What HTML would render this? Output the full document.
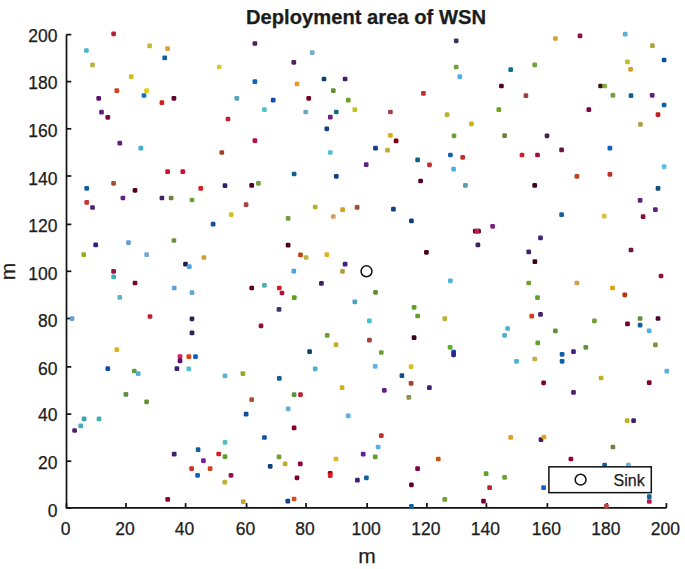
<!DOCTYPE html>
<html><head><meta charset="utf-8"><title>Deployment area of WSN</title>
<style>
html,body{margin:0;padding:0;background:#fff;}
body{width:685px;height:569px;overflow:hidden;}
svg{display:block;}
text{font-family:"Liberation Sans",sans-serif;fill:#1c1c1c;stroke:#1c1c1c;stroke-width:0.25px;}
</style></head><body>
<svg width="685" height="569" viewBox="0 0 685 569">
<rect x="0" y="0" width="685" height="569" fill="#fff"/>
<g stroke="#111" stroke-width="1.7" fill="none">
<path d="M66.5,34.6 V507.9 H666.4"/>
<path d="M66.5,507.9 v-4.8"/>
<path d="M66.5,507.9 h4.8"/>
<path d="M126.0,507.9 v-4.8"/>
<path d="M66.5,461.2 h4.8"/>
<path d="M185.6,507.9 v-4.8"/>
<path d="M66.5,414.1 h4.8"/>
<path d="M246.6,507.9 v-4.8"/>
<path d="M66.5,366.9 h4.8"/>
<path d="M306.05,507.9 v-4.8"/>
<path d="M66.5,318.5 h4.8"/>
<path d="M367.15,507.9 v-4.8"/>
<path d="M66.5,271.3 h4.8"/>
<path d="M426.9,507.9 v-4.8"/>
<path d="M66.5,224.4 h4.8"/>
<path d="M486.4,507.9 v-4.8"/>
<path d="M66.5,176.0 h4.8"/>
<path d="M547.4,507.9 v-4.8"/>
<path d="M66.5,128.8 h4.8"/>
<path d="M606.9,507.9 v-4.8"/>
<path d="M66.5,81.6 h4.8"/>
<path d="M666.4,507.9 v-4.8"/>
<path d="M66.5,34.6 h4.8"/>
</g>
<g font-size="17.5">
<text x="65.50" y="535" text-anchor="middle">0</text>
<text x="57.5" y="517.07" text-anchor="end">0</text>
<text x="125.00" y="535" text-anchor="middle">20</text>
<text x="57.5" y="469.26" text-anchor="end">20</text>
<text x="184.60" y="535" text-anchor="middle">40</text>
<text x="57.5" y="421.46" text-anchor="end">40</text>
<text x="245.60" y="535" text-anchor="middle">60</text>
<text x="57.5" y="374.96" text-anchor="end">60</text>
<text x="305.05" y="535" text-anchor="middle">80</text>
<text x="57.5" y="326.56" text-anchor="end">80</text>
<text x="366.15" y="535" text-anchor="middle">100</text>
<text x="57.5" y="279.87" text-anchor="end">100</text>
<text x="425.90" y="535" text-anchor="middle">120</text>
<text x="57.5" y="232.47" text-anchor="end">120</text>
<text x="485.40" y="535" text-anchor="middle">140</text>
<text x="57.5" y="184.66" text-anchor="end">140</text>
<text x="546.40" y="535" text-anchor="middle">160</text>
<text x="57.5" y="136.87" text-anchor="end">160</text>
<text x="605.90" y="535" text-anchor="middle">180</text>
<text x="57.5" y="89.02" text-anchor="end">180</text>
<text x="665.40" y="535" text-anchor="middle">200</text>
<text x="57.5" y="42.02" text-anchor="end">200</text>
</g>
<text x="366" y="24.3" text-anchor="middle" font-size="20.2" font-weight="bold">Deployment area of WSN</text>
<text x="366.9" y="562.5" text-anchor="middle" font-size="21">m</text>
<text transform="translate(15.4,271.4) rotate(-90)" text-anchor="middle" font-size="21">m</text>
<g>
<rect x="111.25" y="31.45" width="4.7" height="4.7" rx="1.3" fill="#b02030"/>
<rect x="84.05" y="48.15" width="4.7" height="4.7" rx="1.3" fill="#40b8d0"/>
<rect x="147.25" y="43.55" width="4.7" height="4.7" rx="1.3" fill="#c8b830"/>
<rect x="165.25" y="46.25" width="4.7" height="4.7" rx="1.3" fill="#d8a040"/>
<rect x="162.35" y="55.55" width="4.7" height="4.7" rx="1.3" fill="#1060a0"/>
<rect x="90.15" y="62.55" width="4.7" height="4.7" rx="1.3" fill="#c0b040"/>
<rect x="128.85" y="74.35" width="4.7" height="4.7" rx="1.3" fill="#d0c020"/>
<rect x="114.45" y="88.35" width="4.7" height="4.7" rx="1.3" fill="#d04020"/>
<rect x="144.25" y="88.25" width="4.7" height="4.7" rx="1.3" fill="#e0d000"/>
<rect x="141.65" y="93.15" width="4.7" height="4.7" rx="1.3" fill="#1070c0"/>
<rect x="96.35" y="95.95" width="4.7" height="4.7" rx="1.3" fill="#601070"/>
<rect x="171.55" y="95.95" width="4.7" height="4.7" rx="1.3" fill="#600030"/>
<rect x="159.55" y="100.35" width="4.7" height="4.7" rx="1.3" fill="#d02020"/>
<rect x="99.15" y="109.85" width="4.7" height="4.7" rx="1.3" fill="#602080"/>
<rect x="105.45" y="114.95" width="4.7" height="4.7" rx="1.3" fill="#701040"/>
<rect x="252.55" y="41.15" width="4.7" height="4.7" rx="1.3" fill="#502060"/>
<rect x="216.85" y="64.65" width="4.7" height="4.7" rx="1.3" fill="#d8c830"/>
<rect x="252.55" y="79.25" width="4.7" height="4.7" rx="1.3" fill="#1060c0"/>
<rect x="234.45" y="95.95" width="4.7" height="4.7" rx="1.3" fill="#50a8c0"/>
<rect x="270.85" y="97.75" width="4.7" height="4.7" rx="1.3" fill="#1050b0"/>
<rect x="262.05" y="107.35" width="4.7" height="4.7" rx="1.3" fill="#50c0c8"/>
<rect x="225.65" y="116.65" width="4.7" height="4.7" rx="1.3" fill="#c02030"/>
<rect x="309.85" y="50.25" width="4.7" height="4.7" rx="1.3" fill="#70b0d0"/>
<rect x="291.45" y="59.95" width="4.7" height="4.7" rx="1.3" fill="#502060"/>
<rect x="321.65" y="76.65" width="4.7" height="4.7" rx="1.3" fill="#104070"/>
<rect x="342.75" y="76.65" width="4.7" height="4.7" rx="1.3" fill="#402060"/>
<rect x="294.65" y="81.55" width="4.7" height="4.7" rx="1.3" fill="#e0a030"/>
<rect x="330.95" y="88.35" width="4.7" height="4.7" rx="1.3" fill="#609030"/>
<rect x="306.35" y="95.95" width="4.7" height="4.7" rx="1.3" fill="#800020"/>
<rect x="345.95" y="97.75" width="4.7" height="4.7" rx="1.3" fill="#70a030"/>
<rect x="352.45" y="107.35" width="4.7" height="4.7" rx="1.3" fill="#c8c020"/>
<rect x="388.05" y="109.65" width="4.7" height="4.7" rx="1.3" fill="#a04040"/>
<rect x="303.35" y="109.65" width="4.7" height="4.7" rx="1.3" fill="#70a8c8"/>
<rect x="333.95" y="109.65" width="4.7" height="4.7" rx="1.3" fill="#107080"/>
<rect x="327.95" y="114.75" width="4.7" height="4.7" rx="1.3" fill="#702080"/>
<rect x="453.85" y="38.45" width="4.7" height="4.7" rx="1.3" fill="#403060"/>
<rect x="453.85" y="64.65" width="4.7" height="4.7" rx="1.3" fill="#70a040"/>
<rect x="457.45" y="74.35" width="4.7" height="4.7" rx="1.3" fill="#50b0e0"/>
<rect x="508.35" y="67.35" width="4.7" height="4.7" rx="1.3" fill="#107090"/>
<rect x="499.05" y="83.65" width="4.7" height="4.7" rx="1.3" fill="#500030"/>
<rect x="421.05" y="91.05" width="4.7" height="4.7" rx="1.3" fill="#c03030"/>
<rect x="496.45" y="107.35" width="4.7" height="4.7" rx="1.3" fill="#70a020"/>
<rect x="444.75" y="112.25" width="4.7" height="4.7" rx="1.3" fill="#c0b030"/>
<rect x="469.15" y="121.45" width="4.7" height="4.7" rx="1.3" fill="#d0b010"/>
<rect x="553.05" y="36.15" width="4.7" height="4.7" rx="1.3" fill="#d0a030"/>
<rect x="577.65" y="33.55" width="4.7" height="4.7" rx="1.3" fill="#901048"/>
<rect x="622.85" y="31.85" width="4.7" height="4.7" rx="1.3" fill="#60b0d0"/>
<rect x="532.35" y="62.55" width="4.7" height="4.7" rx="1.3" fill="#70a040"/>
<rect x="625.15" y="59.55" width="4.7" height="4.7" rx="1.3" fill="#c0c020"/>
<rect x="628.25" y="66.95" width="4.7" height="4.7" rx="1.3" fill="#d0a030"/>
<rect x="598.25" y="83.65" width="4.7" height="4.7" rx="1.3" fill="#401010"/>
<rect x="602.25" y="83.65" width="4.7" height="4.7" rx="1.3" fill="#80b040"/>
<rect x="523.55" y="93.35" width="4.7" height="4.7" rx="1.3" fill="#a04040"/>
<rect x="610.55" y="92.95" width="4.7" height="4.7" rx="1.3" fill="#70a040"/>
<rect x="628.65" y="93.35" width="4.7" height="4.7" rx="1.3" fill="#106090"/>
<rect x="586.45" y="107.35" width="4.7" height="4.7" rx="1.3" fill="#800040"/>
<rect x="650.05" y="43.25" width="4.7" height="4.7" rx="1.3" fill="#b0a040"/>
<rect x="661.75" y="57.65" width="4.7" height="4.7" rx="1.3" fill="#105090"/>
<rect x="649.85" y="92.95" width="4.7" height="4.7" rx="1.3" fill="#602080"/>
<rect x="661.75" y="102.65" width="4.7" height="4.7" rx="1.3" fill="#1060a0"/>
<rect x="655.65" y="112.25" width="4.7" height="4.7" rx="1.3" fill="#c02020"/>
<rect x="638.05" y="121.95" width="4.7" height="4.7" rx="1.3" fill="#b0a040"/>
<rect x="117.45" y="140.85" width="4.7" height="4.7" rx="1.3" fill="#602080"/>
<rect x="138.45" y="145.75" width="4.7" height="4.7" rx="1.3" fill="#40b0d0"/>
<rect x="165.25" y="169.35" width="4.7" height="4.7" rx="1.3" fill="#d01030"/>
<rect x="180.45" y="169.35" width="4.7" height="4.7" rx="1.3" fill="#d01030"/>
<rect x="111.25" y="180.95" width="4.7" height="4.7" rx="1.3" fill="#a05030"/>
<rect x="84.35" y="186.05" width="4.7" height="4.7" rx="1.3" fill="#1060a0"/>
<rect x="132.65" y="187.95" width="4.7" height="4.7" rx="1.3" fill="#500020"/>
<rect x="84.35" y="200.05" width="4.7" height="4.7" rx="1.3" fill="#d03030"/>
<rect x="90.15" y="205.15" width="4.7" height="4.7" rx="1.3" fill="#502070"/>
<rect x="120.55" y="195.65" width="4.7" height="4.7" rx="1.3" fill="#602080"/>
<rect x="159.55" y="195.65" width="4.7" height="4.7" rx="1.3" fill="#402060"/>
<rect x="168.75" y="195.65" width="4.7" height="4.7" rx="1.3" fill="#708040"/>
<rect x="252.55" y="138.25" width="4.7" height="4.7" rx="1.3" fill="#c01040"/>
<rect x="219.45" y="150.15" width="4.7" height="4.7" rx="1.3" fill="#a04020"/>
<rect x="198.45" y="186.05" width="4.7" height="4.7" rx="1.3" fill="#d02020"/>
<rect x="222.65" y="183.35" width="4.7" height="4.7" rx="1.3" fill="#302070"/>
<rect x="249.35" y="183.05" width="4.7" height="4.7" rx="1.3" fill="#500030"/>
<rect x="256.05" y="180.95" width="4.7" height="4.7" rx="1.3" fill="#70a040"/>
<rect x="189.65" y="197.65" width="4.7" height="4.7" rx="1.3" fill="#70a040"/>
<rect x="243.75" y="202.35" width="4.7" height="4.7" rx="1.3" fill="#b04040"/>
<rect x="228.85" y="212.35" width="4.7" height="4.7" rx="1.3" fill="#d0c020"/>
<rect x="285.75" y="216.05" width="4.7" height="4.7" rx="1.3" fill="#70a040"/>
<rect x="324.45" y="126.45" width="4.7" height="4.7" rx="1.3" fill="#104080"/>
<rect x="388.05" y="132.95" width="4.7" height="4.7" rx="1.3" fill="#d0b020"/>
<rect x="393.75" y="138.55" width="4.7" height="4.7" rx="1.3" fill="#800010"/>
<rect x="373.15" y="145.75" width="4.7" height="4.7" rx="1.3" fill="#104080"/>
<rect x="385.15" y="147.85" width="4.7" height="4.7" rx="1.3" fill="#c0b030"/>
<rect x="327.95" y="150.15" width="4.7" height="4.7" rx="1.3" fill="#50c0d0"/>
<rect x="363.85" y="162.35" width="4.7" height="4.7" rx="1.3" fill="#602080"/>
<rect x="291.75" y="171.65" width="4.7" height="4.7" rx="1.3" fill="#106090"/>
<rect x="333.95" y="173.95" width="4.7" height="4.7" rx="1.3" fill="#104080"/>
<rect x="312.85" y="204.65" width="4.7" height="4.7" rx="1.3" fill="#b0b030"/>
<rect x="340.25" y="207.25" width="4.7" height="4.7" rx="1.3" fill="#d0a020"/>
<rect x="354.75" y="205.05" width="4.7" height="4.7" rx="1.3" fill="#a05030"/>
<rect x="391.05" y="206.75" width="4.7" height="4.7" rx="1.3" fill="#104080"/>
<rect x="330.95" y="214.15" width="4.7" height="4.7" rx="1.3" fill="#d0a060"/>
<rect x="451.65" y="133.45" width="4.7" height="4.7" rx="1.3" fill="#70a030"/>
<rect x="502.25" y="133.35" width="4.7" height="4.7" rx="1.3" fill="#708040"/>
<rect x="448.05" y="152.65" width="4.7" height="4.7" rx="1.3" fill="#1060b0"/>
<rect x="460.35" y="154.95" width="4.7" height="4.7" rx="1.3" fill="#c03030"/>
<rect x="415.25" y="157.55" width="4.7" height="4.7" rx="1.3" fill="#106080"/>
<rect x="427.15" y="162.45" width="4.7" height="4.7" rx="1.3" fill="#c03030"/>
<rect x="451.25" y="166.85" width="4.7" height="4.7" rx="1.3" fill="#50b0e0"/>
<rect x="418.25" y="178.65" width="4.7" height="4.7" rx="1.3" fill="#500030"/>
<rect x="463.05" y="183.05" width="4.7" height="4.7" rx="1.3" fill="#50a0b0"/>
<rect x="409.05" y="218.55" width="4.7" height="4.7" rx="1.3" fill="#104080"/>
<rect x="544.65" y="133.45" width="4.7" height="4.7" rx="1.3" fill="#402050"/>
<rect x="559.25" y="147.55" width="4.7" height="4.7" rx="1.3" fill="#701040"/>
<rect x="519.65" y="152.65" width="4.7" height="4.7" rx="1.3" fill="#d02030"/>
<rect x="535.15" y="152.65" width="4.7" height="4.7" rx="1.3" fill="#a01030"/>
<rect x="607.55" y="145.75" width="4.7" height="4.7" rx="1.3" fill="#1060c0"/>
<rect x="574.55" y="173.95" width="4.7" height="4.7" rx="1.3" fill="#c04020"/>
<rect x="607.55" y="171.95" width="4.7" height="4.7" rx="1.3" fill="#c03020"/>
<rect x="532.35" y="183.05" width="4.7" height="4.7" rx="1.3" fill="#400020"/>
<rect x="559.25" y="212.35" width="4.7" height="4.7" rx="1.3" fill="#1060a0"/>
<rect x="601.95" y="213.75" width="4.7" height="4.7" rx="1.3" fill="#e0c040"/>
<rect x="661.75" y="164.25" width="4.7" height="4.7" rx="1.3" fill="#60c0e0"/>
<rect x="655.65" y="186.05" width="4.7" height="4.7" rx="1.3" fill="#105080"/>
<rect x="637.75" y="197.95" width="4.7" height="4.7" rx="1.3" fill="#602080"/>
<rect x="653.05" y="207.25" width="4.7" height="4.7" rx="1.3" fill="#602080"/>
<rect x="640.75" y="214.35" width="4.7" height="4.7" rx="1.3" fill="#801040"/>
<rect x="93.35" y="242.55" width="4.7" height="4.7" rx="1.3" fill="#302080"/>
<rect x="81.35" y="252.25" width="4.7" height="4.7" rx="1.3" fill="#90b020"/>
<rect x="126.15" y="240.25" width="4.7" height="4.7" rx="1.3" fill="#60a0d0"/>
<rect x="144.25" y="252.25" width="4.7" height="4.7" rx="1.3" fill="#70a8d8"/>
<rect x="171.55" y="238.15" width="4.7" height="4.7" rx="1.3" fill="#709040"/>
<rect x="111.25" y="268.95" width="4.7" height="4.7" rx="1.3" fill="#a01040"/>
<rect x="111.25" y="274.55" width="4.7" height="4.7" rx="1.3" fill="#40b0b0"/>
<rect x="132.65" y="280.65" width="4.7" height="4.7" rx="1.3" fill="#800030"/>
<rect x="171.85" y="285.65" width="4.7" height="4.7" rx="1.3" fill="#60a0d0"/>
<rect x="117.45" y="295.05" width="4.7" height="4.7" rx="1.3" fill="#60b0d0"/>
<rect x="210.75" y="221.85" width="4.7" height="4.7" rx="1.3" fill="#1050a0"/>
<rect x="201.55" y="255.15" width="4.7" height="4.7" rx="1.3" fill="#d0a030"/>
<rect x="183.15" y="261.85" width="4.7" height="4.7" rx="1.3" fill="#202050"/>
<rect x="186.95" y="264.35" width="4.7" height="4.7" rx="1.3" fill="#50a0e0"/>
<rect x="285.75" y="242.85" width="4.7" height="4.7" rx="1.3" fill="#500020"/>
<rect x="189.65" y="290.35" width="4.7" height="4.7" rx="1.3" fill="#60a8d0"/>
<rect x="249.35" y="285.65" width="4.7" height="4.7" rx="1.3" fill="#600020"/>
<rect x="262.05" y="282.95" width="4.7" height="4.7" rx="1.3" fill="#50b0b0"/>
<rect x="276.95" y="285.65" width="4.7" height="4.7" rx="1.3" fill="#d02020"/>
<rect x="279.65" y="290.65" width="4.7" height="4.7" rx="1.3" fill="#b01040"/>
<rect x="276.65" y="307.05" width="4.7" height="4.7" rx="1.3" fill="#403070"/>
<rect x="298.15" y="252.55" width="4.7" height="4.7" rx="1.3" fill="#c04010"/>
<rect x="303.75" y="255.15" width="4.7" height="4.7" rx="1.3" fill="#c0b040"/>
<rect x="324.45" y="252.25" width="4.7" height="4.7" rx="1.3" fill="#e0b020"/>
<rect x="342.75" y="261.85" width="4.7" height="4.7" rx="1.3" fill="#402080"/>
<rect x="340.15" y="268.95" width="4.7" height="4.7" rx="1.3" fill="#b0a040"/>
<rect x="291.45" y="268.75" width="4.7" height="4.7" rx="1.3" fill="#50a0e0"/>
<rect x="319.05" y="281.05" width="4.7" height="4.7" rx="1.3" fill="#402060"/>
<rect x="291.95" y="295.25" width="4.7" height="4.7" rx="1.3" fill="#60a020"/>
<rect x="373.15" y="289.95" width="4.7" height="4.7" rx="1.3" fill="#609030"/>
<rect x="352.45" y="299.45" width="4.7" height="4.7" rx="1.3" fill="#50a0c0"/>
<rect x="490.25" y="223.95" width="4.7" height="4.7" rx="1.3" fill="#802080"/>
<rect x="472.95" y="228.85" width="4.7" height="4.7" rx="1.3" fill="#500030"/>
<rect x="476.15" y="228.85" width="4.7" height="4.7" rx="1.3" fill="#500030"/>
<rect x="474.55" y="228.85" width="4.7" height="4.7" rx="1.3" fill="#c02050"/>
<rect x="475.55" y="242.55" width="4.7" height="4.7" rx="1.3" fill="#402060"/>
<rect x="424.05" y="249.95" width="4.7" height="4.7" rx="1.3" fill="#500020"/>
<rect x="448.05" y="278.55" width="4.7" height="4.7" rx="1.3" fill="#50b0e0"/>
<rect x="411.75" y="304.95" width="4.7" height="4.7" rx="1.3" fill="#60a020"/>
<rect x="538.15" y="235.55" width="4.7" height="4.7" rx="1.3" fill="#402080"/>
<rect x="526.35" y="249.55" width="4.7" height="4.7" rx="1.3" fill="#402070"/>
<rect x="532.55" y="259.25" width="4.7" height="4.7" rx="1.3" fill="#400020"/>
<rect x="628.65" y="247.65" width="4.7" height="4.7" rx="1.3" fill="#701040"/>
<rect x="526.35" y="280.65" width="4.7" height="4.7" rx="1.3" fill="#70a030"/>
<rect x="574.55" y="280.65" width="4.7" height="4.7" rx="1.3" fill="#d0a050"/>
<rect x="610.15" y="285.65" width="4.7" height="4.7" rx="1.3" fill="#e0a000"/>
<rect x="622.45" y="292.45" width="4.7" height="4.7" rx="1.3" fill="#c03010"/>
<rect x="535.15" y="295.25" width="4.7" height="4.7" rx="1.3" fill="#60a030"/>
<rect x="658.65" y="273.65" width="4.7" height="4.7" rx="1.3" fill="#901040"/>
<rect x="69.65" y="316.25" width="4.7" height="4.7" rx="1.3" fill="#60a0d0"/>
<rect x="147.65" y="314.15" width="4.7" height="4.7" rx="1.3" fill="#c02030"/>
<rect x="114.45" y="347.25" width="4.7" height="4.7" rx="1.3" fill="#e0b020"/>
<rect x="105.45" y="366.35" width="4.7" height="4.7" rx="1.3" fill="#1050a0"/>
<rect x="131.95" y="368.65" width="4.7" height="4.7" rx="1.3" fill="#60a040"/>
<rect x="135.85" y="371.25" width="4.7" height="4.7" rx="1.3" fill="#50b0d0"/>
<rect x="123.55" y="392.05" width="4.7" height="4.7" rx="1.3" fill="#609040"/>
<rect x="144.25" y="399.45" width="4.7" height="4.7" rx="1.3" fill="#609030"/>
<rect x="174.55" y="366.35" width="4.7" height="4.7" rx="1.3" fill="#402070"/>
<rect x="189.65" y="316.45" width="4.7" height="4.7" rx="1.3" fill="#302050"/>
<rect x="189.65" y="330.55" width="4.7" height="4.7" rx="1.3" fill="#302050"/>
<rect x="258.65" y="323.45" width="4.7" height="4.7" rx="1.3" fill="#901040"/>
<rect x="177.65" y="354.25" width="4.7" height="4.7" rx="1.3" fill="#d02060"/>
<rect x="177.65" y="358.45" width="4.7" height="4.7" rx="1.3" fill="#601060"/>
<rect x="186.45" y="354.25" width="4.7" height="4.7" rx="1.3" fill="#e04010"/>
<rect x="193.15" y="354.25" width="4.7" height="4.7" rx="1.3" fill="#1060c0"/>
<rect x="186.45" y="366.55" width="4.7" height="4.7" rx="1.3" fill="#50c0d0"/>
<rect x="222.65" y="373.55" width="4.7" height="4.7" rx="1.3" fill="#60b0d0"/>
<rect x="240.55" y="371.25" width="4.7" height="4.7" rx="1.3" fill="#90b020"/>
<rect x="276.95" y="376.05" width="4.7" height="4.7" rx="1.3" fill="#106090"/>
<rect x="249.35" y="397.25" width="4.7" height="4.7" rx="1.3" fill="#b05030"/>
<rect x="285.85" y="406.45" width="4.7" height="4.7" rx="1.3" fill="#60b0d0"/>
<rect x="367.05" y="318.55" width="4.7" height="4.7" rx="1.3" fill="#40c0d0"/>
<rect x="324.85" y="332.95" width="4.7" height="4.7" rx="1.3" fill="#70a030"/>
<rect x="333.65" y="342.25" width="4.7" height="4.7" rx="1.3" fill="#c0b030"/>
<rect x="367.05" y="337.85" width="4.7" height="4.7" rx="1.3" fill="#a04040"/>
<rect x="307.25" y="349.35" width="4.7" height="4.7" rx="1.3" fill="#104070"/>
<rect x="378.95" y="350.15" width="4.7" height="4.7" rx="1.3" fill="#70a030"/>
<rect x="312.85" y="366.55" width="4.7" height="4.7" rx="1.3" fill="#50b0d0"/>
<rect x="372.85" y="363.95" width="4.7" height="4.7" rx="1.3" fill="#60b0e0"/>
<rect x="399.55" y="373.35" width="4.7" height="4.7" rx="1.3" fill="#105080"/>
<rect x="339.75" y="385.35" width="4.7" height="4.7" rx="1.3" fill="#d0b020"/>
<rect x="381.95" y="387.95" width="4.7" height="4.7" rx="1.3" fill="#602080"/>
<rect x="291.75" y="392.35" width="4.7" height="4.7" rx="1.3" fill="#609040"/>
<rect x="298.15" y="392.35" width="4.7" height="4.7" rx="1.3" fill="#c02030"/>
<rect x="415.25" y="313.65" width="4.7" height="4.7" rx="1.3" fill="#60a020"/>
<rect x="442.45" y="316.25" width="4.7" height="4.7" rx="1.3" fill="#c0b030"/>
<rect x="411.75" y="335.25" width="4.7" height="4.7" rx="1.3" fill="#400020"/>
<rect x="505.25" y="326.15" width="4.7" height="4.7" rx="1.3" fill="#50b0d0"/>
<rect x="502.25" y="332.95" width="4.7" height="4.7" rx="1.3" fill="#50b0d0"/>
<rect x="447.75" y="344.95" width="4.7" height="4.7" rx="1.3" fill="#60b030"/>
<rect x="451.25" y="349.65" width="4.7" height="4.7" rx="1.3" fill="#1040a0"/>
<rect x="451.25" y="352.45" width="4.7" height="4.7" rx="1.3" fill="#302080"/>
<rect x="514.15" y="358.95" width="4.7" height="4.7" rx="1.3" fill="#50b0d0"/>
<rect x="408.75" y="364.25" width="4.7" height="4.7" rx="1.3" fill="#d0c020"/>
<rect x="408.75" y="380.95" width="4.7" height="4.7" rx="1.3" fill="#a04030"/>
<rect x="427.05" y="385.35" width="4.7" height="4.7" rx="1.3" fill="#402070"/>
<rect x="406.45" y="395.05" width="4.7" height="4.7" rx="1.3" fill="#909050"/>
<rect x="529.35" y="313.85" width="4.7" height="4.7" rx="1.3" fill="#d04020"/>
<rect x="538.15" y="312.05" width="4.7" height="4.7" rx="1.3" fill="#402070"/>
<rect x="592.05" y="318.55" width="4.7" height="4.7" rx="1.3" fill="#70a030"/>
<rect x="625.15" y="321.55" width="4.7" height="4.7" rx="1.3" fill="#700030"/>
<rect x="553.05" y="328.55" width="4.7" height="4.7" rx="1.3" fill="#609040"/>
<rect x="535.45" y="340.55" width="4.7" height="4.7" rx="1.3" fill="#60a030"/>
<rect x="583.45" y="344.95" width="4.7" height="4.7" rx="1.3" fill="#609040"/>
<rect x="571.15" y="349.35" width="4.7" height="4.7" rx="1.3" fill="#402080"/>
<rect x="559.75" y="351.95" width="4.7" height="4.7" rx="1.3" fill="#1060b0"/>
<rect x="559.75" y="358.95" width="4.7" height="4.7" rx="1.3" fill="#1060b0"/>
<rect x="532.35" y="356.65" width="4.7" height="4.7" rx="1.3" fill="#c0b040"/>
<rect x="598.75" y="375.65" width="4.7" height="4.7" rx="1.3" fill="#c0b020"/>
<rect x="541.25" y="380.45" width="4.7" height="4.7" rx="1.3" fill="#800030"/>
<rect x="571.15" y="390.05" width="4.7" height="4.7" rx="1.3" fill="#502070"/>
<rect x="637.75" y="316.15" width="4.7" height="4.7" rx="1.3" fill="#609040"/>
<rect x="655.65" y="316.15" width="4.7" height="4.7" rx="1.3" fill="#500030"/>
<rect x="637.75" y="322.75" width="4.7" height="4.7" rx="1.3" fill="#1060a0"/>
<rect x="646.85" y="328.45" width="4.7" height="4.7" rx="1.3" fill="#50b0e0"/>
<rect x="653.05" y="342.45" width="4.7" height="4.7" rx="1.3" fill="#809040"/>
<rect x="664.45" y="368.85" width="4.7" height="4.7" rx="1.3" fill="#60b0e0"/>
<rect x="646.85" y="380.25" width="4.7" height="4.7" rx="1.3" fill="#800030"/>
<rect x="81.75" y="416.55" width="4.7" height="4.7" rx="1.3" fill="#40a0b0"/>
<rect x="96.65" y="416.55" width="4.7" height="4.7" rx="1.3" fill="#40b0b0"/>
<rect x="78.35" y="423.55" width="4.7" height="4.7" rx="1.3" fill="#40b0c0"/>
<rect x="72.25" y="428.15" width="4.7" height="4.7" rx="1.3" fill="#502070"/>
<rect x="171.85" y="451.85" width="4.7" height="4.7" rx="1.3" fill="#402070"/>
<rect x="165.35" y="497.05" width="4.7" height="4.7" rx="1.3" fill="#900030"/>
<rect x="243.75" y="411.85" width="4.7" height="4.7" rx="1.3" fill="#1050a0"/>
<rect x="262.05" y="435.15" width="4.7" height="4.7" rx="1.3" fill="#1050a0"/>
<rect x="222.65" y="439.95" width="4.7" height="4.7" rx="1.3" fill="#50c0c0"/>
<rect x="195.75" y="447.35" width="4.7" height="4.7" rx="1.3" fill="#1060a0"/>
<rect x="216.35" y="451.65" width="4.7" height="4.7" rx="1.3" fill="#d02020"/>
<rect x="222.65" y="454.35" width="4.7" height="4.7" rx="1.3" fill="#60a030"/>
<rect x="201.05" y="458.35" width="4.7" height="4.7" rx="1.3" fill="#7020a0"/>
<rect x="189.25" y="466.25" width="4.7" height="4.7" rx="1.3" fill="#d03020"/>
<rect x="207.75" y="466.25" width="4.7" height="4.7" rx="1.3" fill="#d04020"/>
<rect x="195.25" y="472.95" width="4.7" height="4.7" rx="1.3" fill="#1060c0"/>
<rect x="228.65" y="472.95" width="4.7" height="4.7" rx="1.3" fill="#a01050"/>
<rect x="222.45" y="479.85" width="4.7" height="4.7" rx="1.3" fill="#c0b030"/>
<rect x="276.65" y="454.55" width="4.7" height="4.7" rx="1.3" fill="#70a030"/>
<rect x="282.75" y="461.55" width="4.7" height="4.7" rx="1.3" fill="#c0b030"/>
<rect x="267.85" y="463.95" width="4.7" height="4.7" rx="1.3" fill="#104080"/>
<rect x="240.95" y="499.35" width="4.7" height="4.7" rx="1.3" fill="#d0a030"/>
<rect x="285.45" y="498.75" width="4.7" height="4.7" rx="1.3" fill="#104080"/>
<rect x="345.95" y="413.55" width="4.7" height="4.7" rx="1.3" fill="#60b0e0"/>
<rect x="291.75" y="425.55" width="4.7" height="4.7" rx="1.3" fill="#800030"/>
<rect x="378.95" y="433.25" width="4.7" height="4.7" rx="1.3" fill="#c03030"/>
<rect x="375.75" y="444.65" width="4.7" height="4.7" rx="1.3" fill="#50b0e0"/>
<rect x="360.85" y="451.85" width="4.7" height="4.7" rx="1.3" fill="#6020a0"/>
<rect x="372.85" y="454.55" width="4.7" height="4.7" rx="1.3" fill="#60a030"/>
<rect x="333.65" y="456.65" width="4.7" height="4.7" rx="1.3" fill="#e0b030"/>
<rect x="297.95" y="461.55" width="4.7" height="4.7" rx="1.3" fill="#900040"/>
<rect x="327.85" y="471.05" width="4.7" height="4.7" rx="1.3" fill="#a00010"/>
<rect x="327.85" y="473.35" width="4.7" height="4.7" rx="1.3" fill="#e02020"/>
<rect x="294.65" y="475.45" width="4.7" height="4.7" rx="1.3" fill="#800030"/>
<rect x="355.05" y="477.75" width="4.7" height="4.7" rx="1.3" fill="#402070"/>
<rect x="364.05" y="475.45" width="4.7" height="4.7" rx="1.3" fill="#1060a0"/>
<rect x="291.75" y="496.65" width="4.7" height="4.7" rx="1.3" fill="#d05020"/>
<rect x="508.35" y="435.05" width="4.7" height="4.7" rx="1.3" fill="#e0a030"/>
<rect x="435.95" y="456.65" width="4.7" height="4.7" rx="1.3" fill="#d05010"/>
<rect x="415.25" y="466.25" width="4.7" height="4.7" rx="1.3" fill="#800040"/>
<rect x="409.05" y="482.45" width="4.7" height="4.7" rx="1.3" fill="#600030"/>
<rect x="442.45" y="497.05" width="4.7" height="4.7" rx="1.3" fill="#70a030"/>
<rect x="483.75" y="471.25" width="4.7" height="4.7" rx="1.3" fill="#60a030"/>
<rect x="502.25" y="475.05" width="4.7" height="4.7" rx="1.3" fill="#70a030"/>
<rect x="487.25" y="485.25" width="4.7" height="4.7" rx="1.3" fill="#c02030"/>
<rect x="481.15" y="498.75" width="4.7" height="4.7" rx="1.3" fill="#700040"/>
<rect x="409.05" y="503.95" width="4.7" height="4.7" rx="1.3" fill="#1060a0"/>
<rect x="624.75" y="418.35" width="4.7" height="4.7" rx="1.3" fill="#c0b020"/>
<rect x="631.25" y="418.35" width="4.7" height="4.7" rx="1.3" fill="#402060"/>
<rect x="538.65" y="437.25" width="4.7" height="4.7" rx="1.3" fill="#402060"/>
<rect x="541.65" y="434.65" width="4.7" height="4.7" rx="1.3" fill="#e0a030"/>
<rect x="610.55" y="444.65" width="4.7" height="4.7" rx="1.3" fill="#708040"/>
<rect x="568.55" y="456.65" width="4.7" height="4.7" rx="1.3" fill="#900040"/>
<rect x="602.25" y="462.75" width="4.7" height="4.7" rx="1.3" fill="#1060a0"/>
<rect x="626.05" y="462.75" width="4.7" height="4.7" rx="1.3" fill="#60b0e0"/>
<rect x="541.25" y="485.25" width="4.7" height="4.7" rx="1.3" fill="#1060c0"/>
<rect x="604.05" y="503.85" width="4.7" height="4.7" rx="1.3" fill="#c04040"/>
<rect x="646.95" y="494.35" width="4.7" height="4.7" rx="1.3" fill="#106090"/>
<rect x="646.95" y="499.15" width="4.7" height="4.7" rx="1.3" fill="#c01050"/>
</g>
<circle cx="366.5" cy="271.3" r="5.45" fill="none" stroke="#111" stroke-width="1.5"/>
<rect x="548.9" y="466.85" width="102.4" height="25.8" fill="#fff" stroke="#111" stroke-width="1.5"/>
<circle cx="580.6" cy="479.7" r="5.4" fill="none" stroke="#111" stroke-width="1.5"/>
<text x="613.6" y="486.3" font-size="16">Sink</text>
</svg>
</body></html>
